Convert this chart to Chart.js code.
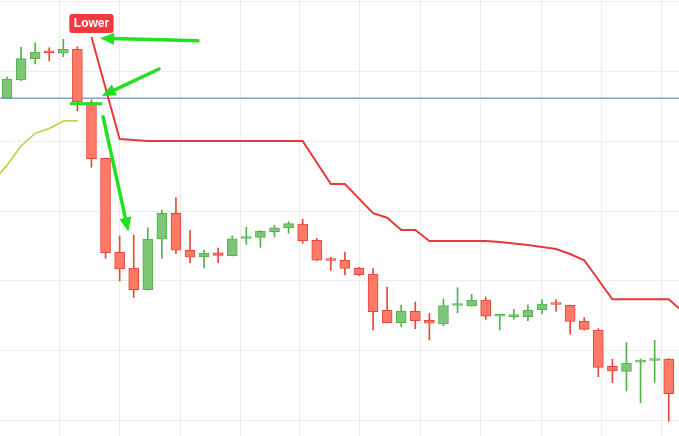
<!DOCTYPE html>
<html><head><meta charset="utf-8">
<script src="https://cdn.jsdelivr.net/npm/chart.js@4.4.1/dist/chart.umd.min.js"></script>
<style>html,body{margin:0;padding:0;background:#fff;overflow:hidden}#wrap{width:679px;height:436px;position:relative}</style>
</head><body><div id="wrap"><canvas id="c" width="679" height="436"></canvas></div>
<script>
// ---- data ----
const candleIndex = [0,1,2,3,4,5,6,7,8,9,10,11,12,13,14,15,16,17,18,19,20,21,22,23,24,25,26,27,28,29,30,31,32,33,34,35,36,37,38,39,40,41,42,43,44,45,46,47];
const opens  = [146.19,148.71,151.76,152.71,152.53,153.10,145.50,137.53,124.10,121.86,118.76,125.96,129.67,124.39,123.43,124.04,123.61,126.07,126.24,127.04,127.61,128.14,125.81,123.07,122.96,121.81,121.00,115.81,114.04,115.67,114.39,113.86,116.50,116.47,117.29,114.97,114.90,114.90,115.90,116.79,116.54,114.24,113.00,107.81,107.10,108.40,108.64,108.86];
const highs  = [149.14,153.39,154.04,153.33,154.53,153.47,145.86,137.57,126.43,126.57,127.61,130.14,131.90,127.19,124.43,124.71,126.43,127.67,127.21,127.96,128.47,128.81,126.10,123.39,124.14,121.96,121.76,119.10,116.57,117.00,115.39,117.43,119.04,118.10,117.71,115.19,115.96,116.61,117.33,117.36,116.57,114.76,113.19,108.81,111.19,108.86,111.53,108.93];
const lows   = [146.14,148.64,151.00,151.43,152.04,144.29,136.24,123.24,120.00,117.67,118.70,123.24,123.90,122.57,121.86,122.61,123.57,125.24,124.81,126.29,126.81,125.39,122.90,121.53,120.86,120.76,113.00,114.00,113.43,113.19,111.57,113.61,115.47,116.40,114.53,113.00,114.53,114.33,115.33,115.64,112.39,113.00,106.33,105.47,104.29,102.61,105.53,99.96];
const closes = [148.86,151.76,152.71,152.61,153.10,145.57,137.47,124.04,121.71,118.76,126.00,129.67,124.39,123.39,124.00,123.67,126.04,126.21,127.10,127.61,128.19,125.76,122.96,122.93,121.81,120.90,115.61,114.04,115.67,114.33,113.96,116.50,116.64,117.24,114.96,115.07,115.01,115.81,116.71,116.64,114.21,113.10,107.67,107.14,108.29,108.54,108.79,103.90];

// red stop line (vertices)
const upperX = [6, 8, 9, 10, 21, 23, 24, 26, 27, 28, 29, 30, 34, 35, 36, 37, 38, 39, 40, 41, 43, 47, 48];
const upperY = [154.86,140.29,140.14,140.00,140.00,133.86,133.86,129.70,129.04,127.29,127.29,125.71,125.71,125.57,125.36,125.14,124.86,124.57,123.86,122.96,117.39,117.39,115.64];
// lime line
const limeX = [-1, 0, 1, 2, 3, 4, 5];
const limeY = [134.23,136.54,139.29,141.10,141.79,142.86,142.90];
// horizontal level
const levelPrice = 146.10;
// short green marker
const markerX = [4.47, 6.75];
const markerPrice = 145.33;
// annotation arrows (data coords)
const arrowFromX = [13.57, 10.80, 6.82];
const arrowFromY = [154.33, 150.29, 143.47];
const arrowToX   = [6.61, 6.73, 8.62];
const arrowToY   = [154.67, 146.43, 127.07];
const labelText = 'Lower';
// grid positions
const gridX = [3.73, 8.00, 12.29, 16.55, 20.81, 25.07, 29.37, 33.66, 37.93, 42.22, 46.52];
const gridY = [100, 110, 120, 130, 140, 150, 160];
const xRange = [-0.497, 47.73];
const yRange = [97.857, 160.143];

// ---- styles ----
const UP_FILL = '#7cc776', UP_LINE = '#56b04e';
const DN_FILL = '#ff7a66', DN_LINE = '#e5483a';

const bodies = candleIndex.map((x, i) => ({x, y: [opens[i], closes[i]]}));
const wicks  = candleIndex.map((x, i) => ({x, y: [lows[i], highs[i]]}));
const isUp = i => closes[i] >= opens[i];

const annot = {
  id: 'annot',
  afterDatasetsDraw(chart) {
    const ctx = chart.ctx, sx = chart.scales.x, sy = chart.scales.y;
    ctx.save();
    ctx.strokeStyle = '#22e022';
    ctx.fillStyle = '#22e022';
    ctx.lineWidth = 3.5;
    ctx.lineCap = 'round';
    for (let i = 0; i < arrowFromX.length; i++) {
      const x0 = sx.getPixelForValue(arrowFromX[i]), y0 = sy.getPixelForValue(arrowFromY[i]);
      const x1 = sx.getPixelForValue(arrowToX[i]), y1 = sy.getPixelForValue(arrowToY[i]);
      const a = Math.atan2(y1 - y0, x1 - x0), c = Math.cos(a), s = Math.sin(a);
      const hl = 14, hw = 6;
      const bx = x1 - c * hl, by = y1 - s * hl;
      ctx.beginPath(); ctx.moveTo(x0, y0); ctx.lineTo(bx + c * 2, by + s * 2); ctx.stroke();
      ctx.beginPath();
      ctx.moveTo(x1, y1);
      ctx.lineTo(bx - s * hw, by + c * hw);
      ctx.lineTo(bx + s * hw, by - c * hw);
      ctx.closePath(); ctx.fill();
    }
    // label above the first point of the red line
    const px = sx.getPixelForValue(upperX[0]), py = sy.getPixelForValue(upperY[0]);
    ctx.font = 'bold 12px "Liberation Sans", Arial, sans-serif';
    const tw = ctx.measureText(labelText).width;
    const w = tw + 9, h = 19, bx = px - w / 2, by = py - 4 - h;
    ctx.fillStyle = '#f5373f';
    ctx.beginPath();
    if (ctx.roundRect) ctx.roundRect(bx, by, w, h, 3); else ctx.rect(bx, by, w, h);
    ctx.fill();
    ctx.fillStyle = '#ffffff';
    ctx.textAlign = 'center'; ctx.textBaseline = 'middle';
    ctx.fillText(labelText, px, by + h / 2 + 0.5);
    ctx.restore();
  }
};

new Chart(document.getElementById('c'), {
  type: 'bar',
  data: {
    datasets: [
      { type: 'line', data: markerX.map(x => ({x, y: markerPrice})), borderColor: '#22e022', borderWidth: 3,
        pointRadius: 0, order: 0, borderCapStyle: 'butt' },
      { type: 'line', data: upperX.map((x, i) => ({x, y: upperY[i]})), borderColor: '#e8393c', borderWidth: 2,
        pointRadius: 0, tension: 0, order: 1 },
      { type: 'line', data: limeX.map((x, i) => ({x, y: limeY[i]})), borderColor: '#a9d63e', borderWidth: 1.5,
        pointRadius: 0, tension: 0, order: 1 },
      { type: 'line', data: [{x: xRange[0], y: levelPrice}, {x: xRange[1], y: levelPrice}], borderColor: '#86a3cc', borderWidth: 1.5,
        pointRadius: 0, order: 4 },
      { type: 'bar', data: bodies, grouped: false, barThickness: 10, minBarLength: 2, borderSkipped: false,
        backgroundColor: c => isUp(c.dataIndex) ? UP_FILL : DN_FILL,
        borderColor: c => isUp(c.dataIndex) ? UP_LINE : DN_LINE,
        borderWidth: 1, order: 2 },
      { type: 'bar', data: wicks, grouped: false, barThickness: 1, borderWidth: 0,
        backgroundColor: c => isUp(c.dataIndex) ? UP_LINE : DN_LINE, order: 3 }
    ]
  },
  options: {
    responsive: false, animation: false, events: [],
    layout: { padding: 0 },
    plugins: { legend: { display: false }, tooltip: { enabled: false } },
    scales: {
      x: { type: 'linear', min: xRange[0], max: xRange[1], offset: false,
           ticks: { display: false }, border: { display: false },
           grid: { color: '#ededed', drawTicks: false, offset: false, lineWidth: 1 },
           afterBuildTicks: s => { s.ticks = gridX.map(v => ({value: v})); } },
      y: { type: 'linear', min: yRange[0], max: yRange[1], beginAtZero: false,
           ticks: { display: false }, border: { display: false },
           grid: { color: '#ededed', drawTicks: false, lineWidth: 1 },
           afterBuildTicks: s => { s.ticks = gridY.map(v => ({value: v})); } }
    }
  },
  plugins: [annot]
});
</script></body></html>
